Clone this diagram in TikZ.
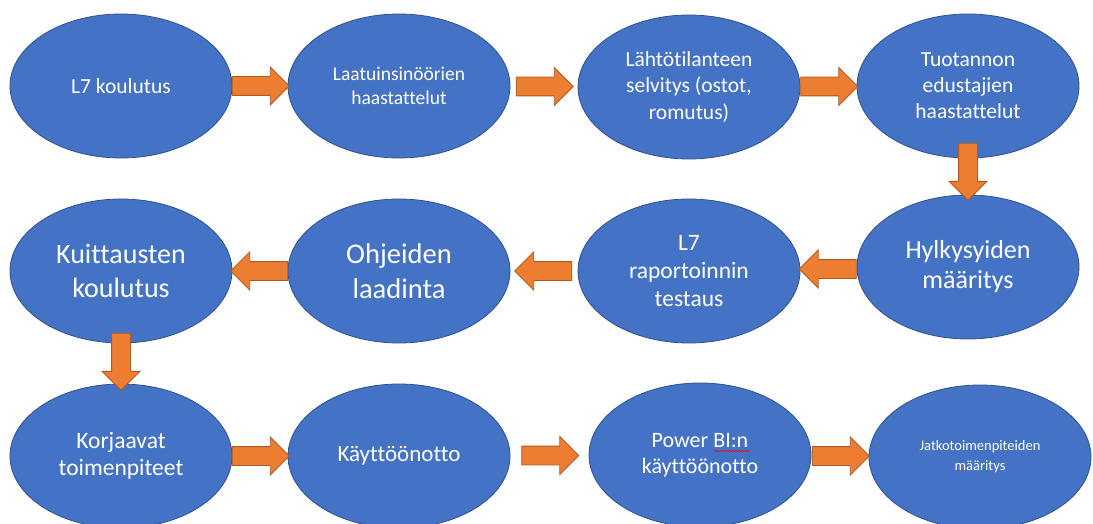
\documentclass[tikz,border=0pt]{standalone}
\usepackage{fontspec}
\setmainfont{Carlito}[Ligatures=NoCommon]
\usetikzlibrary{shapes.geometric,shapes.arrows,decorations.pathmorphing}
\definecolor{phasefill}{HTML}{4472C4}
\definecolor{phaseline}{HTML}{2F528F}
\definecolor{arrfill}{HTML}{ED7D31}
\definecolor{arrline}{HTML}{AE5A21}

\begin{document}
\begin{tikzpicture}[x=1pt,y=-1pt,
  phase/.style={ellipse, fill=phasefill, draw=phaseline, line width=0.8pt,
    text=white, align=center, minimum width=222pt, minimum height=144pt, inner sep=0pt},
  blk/.style={single arrow, fill=arrfill, draw=arrline, line width=0.8pt,
    minimum height=57pt, minimum width=37pt, single arrow head extend=9.5pt, inner sep=9pt},
  rarr/.style={blk, xshift=-4pt},
  larr/.style={blk, shape border rotate=180, xshift=4pt},
  darr/.style={blk, shape border rotate=270, yshift=4pt}]
\useasboundingbox (0,0) rectangle (1093,524);
% first row
\node[phase, font=\fontsize{21.5}{26}\selectfont] (koulutus) at (121,86) {L7 koulutus};
\node[phase, font=\fontsize{19.5}{24}\selectfont] (laatu) at (399,86) {Laatuinsinöörien\\haastattelut};
\node[phase, font=\fontsize{21.5}{26.5}\selectfont] (lahto) at (689,87) {Lähtötilanteen\\selvitys (ostot,\\romutus)};
\node[phase, font=\fontsize{21.5}{26}\selectfont] (tuotanto) at (968,86) {Tuotannon\\edustajien\\haastattelut};
% second row
\node[phase, font=\fontsize{26}{30}\selectfont] (hylky) at (968,267) {Hylkysyiden\\määritys};
\node[phase, font=\fontsize{23.5}{28}\selectfont] (raportti) at (689,271) {L7\\raportoinnin\\testaus};
\node[phase, font=\fontsize{28.5}{35}\selectfont] (ohjeet) at (399,271) {Ohjeiden\\laadinta};
\node[phase, font=\fontsize{28}{34}\selectfont] (kuittaus) at (121,271) {Kuittausten\\koulutus};
% third row
\node[phase, font=\fontsize{23.5}{27}\selectfont] (korjaus) at (121,456) {Korjaavat\\toimenpiteet};
\node[phase, font=\fontsize{23}{28}\selectfont] (kaytto) at (399,456) {Käyttöönotto};
\node[phase, font=\fontsize{22}{26}\selectfont] (powerbi) at (700,455) {Power BI:n\\käyttöönotto};
\node[phase, font=\fontsize{14.5}{20}\selectfont] (jatko) at (980,457) {Jatkotoimenpiteiden\\määritys};
% arrows
\path (koulutus) -- node[rarr] {} (laatu);
\path (laatu) -- node[rarr] {} (lahto);
\path (lahto) -- node[rarr] {} (tuotanto);
\path (tuotanto) -- node[darr, pos=.35] {} (hylky);
\path (hylky) -- node[larr] {} (raportti);
\path (raportti) -- node[larr] {} (ohjeet);
\path (ohjeet) -- node[larr] {} (kuittaus);
\path (kuittaus) -- node[darr, pos=.44] {} (korjaus);
\path (korjaus) -- node[rarr] {} (kaytto);
\path (kaytto) -- node[rarr] {} (powerbi);
\path (powerbi) -- node[rarr] {} (jatko);
\draw[red, line width=0.5pt, decorate, decoration={snake, amplitude=0.7pt, segment length=3pt}] (714,451) -- (749,451);
\end{tikzpicture}
\end{document}
